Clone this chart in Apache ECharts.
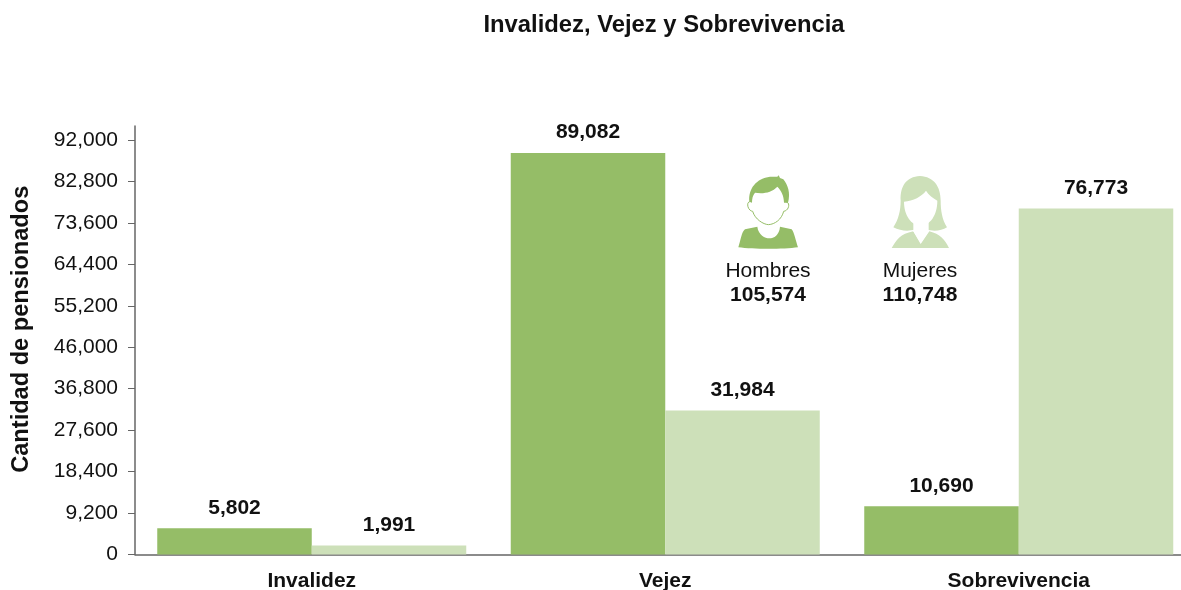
<!DOCTYPE html>
<html>
<head>
<meta charset="utf-8">
<title>Invalidez, Vejez y Sobrevivencia</title>
<style>
  html, body { margin: 0; padding: 0; background: #fff; }
  #chart { width: 1181px; height: 590px; }
</style>
</head>
<body>
<div id="chart"></div>
<script src="https://cdn.jsdelivr.net/npm/echarts@6/dist/echarts.min.js"></script>
<script>
const categories = ['Invalidez', 'Vejez', 'Sobrevivencia']
const hombres = [5802, 89082, 10690]
const mujeres = [1991, 31984, 76773]
const tickValues = [0, 9200, 18400, 27600, 36800, 46000, 55200, 64400, 73600, 82800, 92000]
const totalHombres = 105574
const totalMujeres = 110748

const colorHombres = '#95bd67'
const colorMujeres = '#cde0b9'
const textColor = '#111'
const fontFamily = '"Liberation Sans", Arial, sans-serif'

function fmt(value) {
  return value.toLocaleString('en-US')
}

const barLabel = {
  show: true,
  position: 'top',
  distance: 10,
  color: textColor,
  fontFamily,
  fontSize: 21,
  fontWeight: 'bold',
  formatter: (p) => fmt(p.value)
}

// el componente graphic no acepta type 'path', hay que registrar cada forma
function iconPart(name, pathData, style) {
  echarts.graphic.registerShape(name, echarts.graphic.extendPath(pathData))
  return { type: name, style }
}

// iconos dibujados en una caja 3x, por eso el scale de 1/3
function iconGroup(children) {
  return { type: 'group', x: 700, y: 160, scaleX: 1 / 3, scaleY: 1 / 3, silent: true, children }
}

const hombreIcon = iconGroup([
  iconPart(
    'hombreCuerpo',
    'M115 262 C122 240 125 215 135 208 L172 200 C175 225 195 235 208 235 C222 235 238 225 240 200 L275 208 C282 215 288 245 294 262 C250 268 160 268 115 262 Z',
    { fill: colorHombres }
  ),
  iconPart(
    'hombreCara',
    'M150 125 C138 125 142 152 158 154 C165 178 190 193 205 194 C225 193 245 178 251 154 C267 152 272 128 258 125',
    { fill: '#fff', stroke: colorHombres, lineWidth: 3 }
  ),
  iconPart(
    'hombrePelo',
    'M148 125 C144 85 170 55 210 50 L232 50 L236 46 L240 54 L250 58 C264 75 272 100 264 128 L252 128 C252 108 244 92 232 80 C215 98 190 102 165 98 C158 106 156 116 156 128 Z',
    { fill: colorHombres }
  )
])

const mujerIcon = iconGroup([
  iconPart(
    'mujerPelo',
    'M660 48 C618 50 600 80 602 122 C602 150 596 178 580 202 C600 212 625 216 645 208 L680 208 C700 216 725 212 741 202 C726 178 722 150 722 122 C722 80 702 50 660 48 Z',
    { fill: colorMujeres }
  ),
  iconPart(
    'mujerCuerpo',
    'M575 264 C590 240 600 222 640 214 L662 252 L688 214 C720 222 735 240 747 264 Z',
    { fill: colorMujeres }
  ),
  iconPart(
    'mujerCuello',
    'M640 185 L686 185 L686 214 L662 250 L640 214 Z',
    { fill: '#fff' }
  ),
  iconPart(
    'mujerCara',
    'M612 125 C640 122 665 110 678 92 C685 105 700 115 712 122 C712 165 690 197 662 197 C634 197 612 165 612 125 Z',
    { fill: '#fff' }
  )
])

function totalText(x, y, text, bold) {
  return {
    type: 'text',
    x,
    y,
    silent: true,
    style: {
      text,
      fill: textColor,
      font: `${bold ? 'bold ' : ''}21px ${fontFamily}`,
      align: 'center',
      verticalAlign: 'middle'
    }
  }
}

const chart = echarts.init(document.getElementById('chart'))
chart.setOption({
  animation: false,
  title: {
    text: 'Invalidez, Vejez y Sobrevivencia',
    left: 659,
    top: 8,
    textAlign: 'center',
    textStyle: { color: textColor, fontFamily, fontSize: 23.8, fontWeight: 'bold' }
  },
  // el eje se sale del lienzo por la derecha, igual que en el original
  grid: { left: 135, right: -14.5, top: 126, bottom: 35.5, outerBoundsMode: 'none' },
  xAxis: {
    type: 'category',
    data: categories,
    axisTick: { show: false },
    axisLine: { lineStyle: { color: '#666', width: 1.5 } },
    axisLabel: {
      color: textColor,
      fontFamily,
      fontSize: 21,
      fontWeight: 'bold',
      margin: 16
    }
  },
  yAxis: {
    type: 'value',
    min: 0,
    max: 95100,
    name: 'Cantidad de pensionados',
    nameLocation: 'middle',
    nameGap: 102,
    nameTextStyle: { color: textColor, fontFamily, fontSize: 23.6, fontWeight: 'bold', padding: [0, 0, 0, 22] },
    splitLine: { show: false },
    axisLine: { show: true, lineStyle: { color: '#666', width: 1.5 } },
    axisTick: { show: true, length: 7, customValues: tickValues, lineStyle: { color: '#666', width: 1 } },
    axisLabel: {
      color: textColor,
      fontFamily,
      fontSize: 21,
      margin: 17,
      customValues: tickValues,
      formatter: (v) => fmt(v)
    }
  },
  series: [
    {
      name: 'Hombres',
      type: 'bar',
      data: hombres,
      barWidth: 154.5,
      barGap: 0,
      itemStyle: { color: colorHombres },
      label: barLabel
    },
    {
      name: 'Mujeres',
      type: 'bar',
      data: mujeres,
      barWidth: 154.5,
      itemStyle: { color: colorMujeres },
      label: barLabel
    }
  ],
  graphic: [
    hombreIcon,
    mujerIcon,
    totalText(768, 271, 'Hombres', false),
    totalText(768, 295, fmt(totalHombres), true),
    totalText(920, 271, 'Mujeres', false),
    totalText(920, 295, fmt(totalMujeres), true)
  ]
})
</script>
</body>
</html>
